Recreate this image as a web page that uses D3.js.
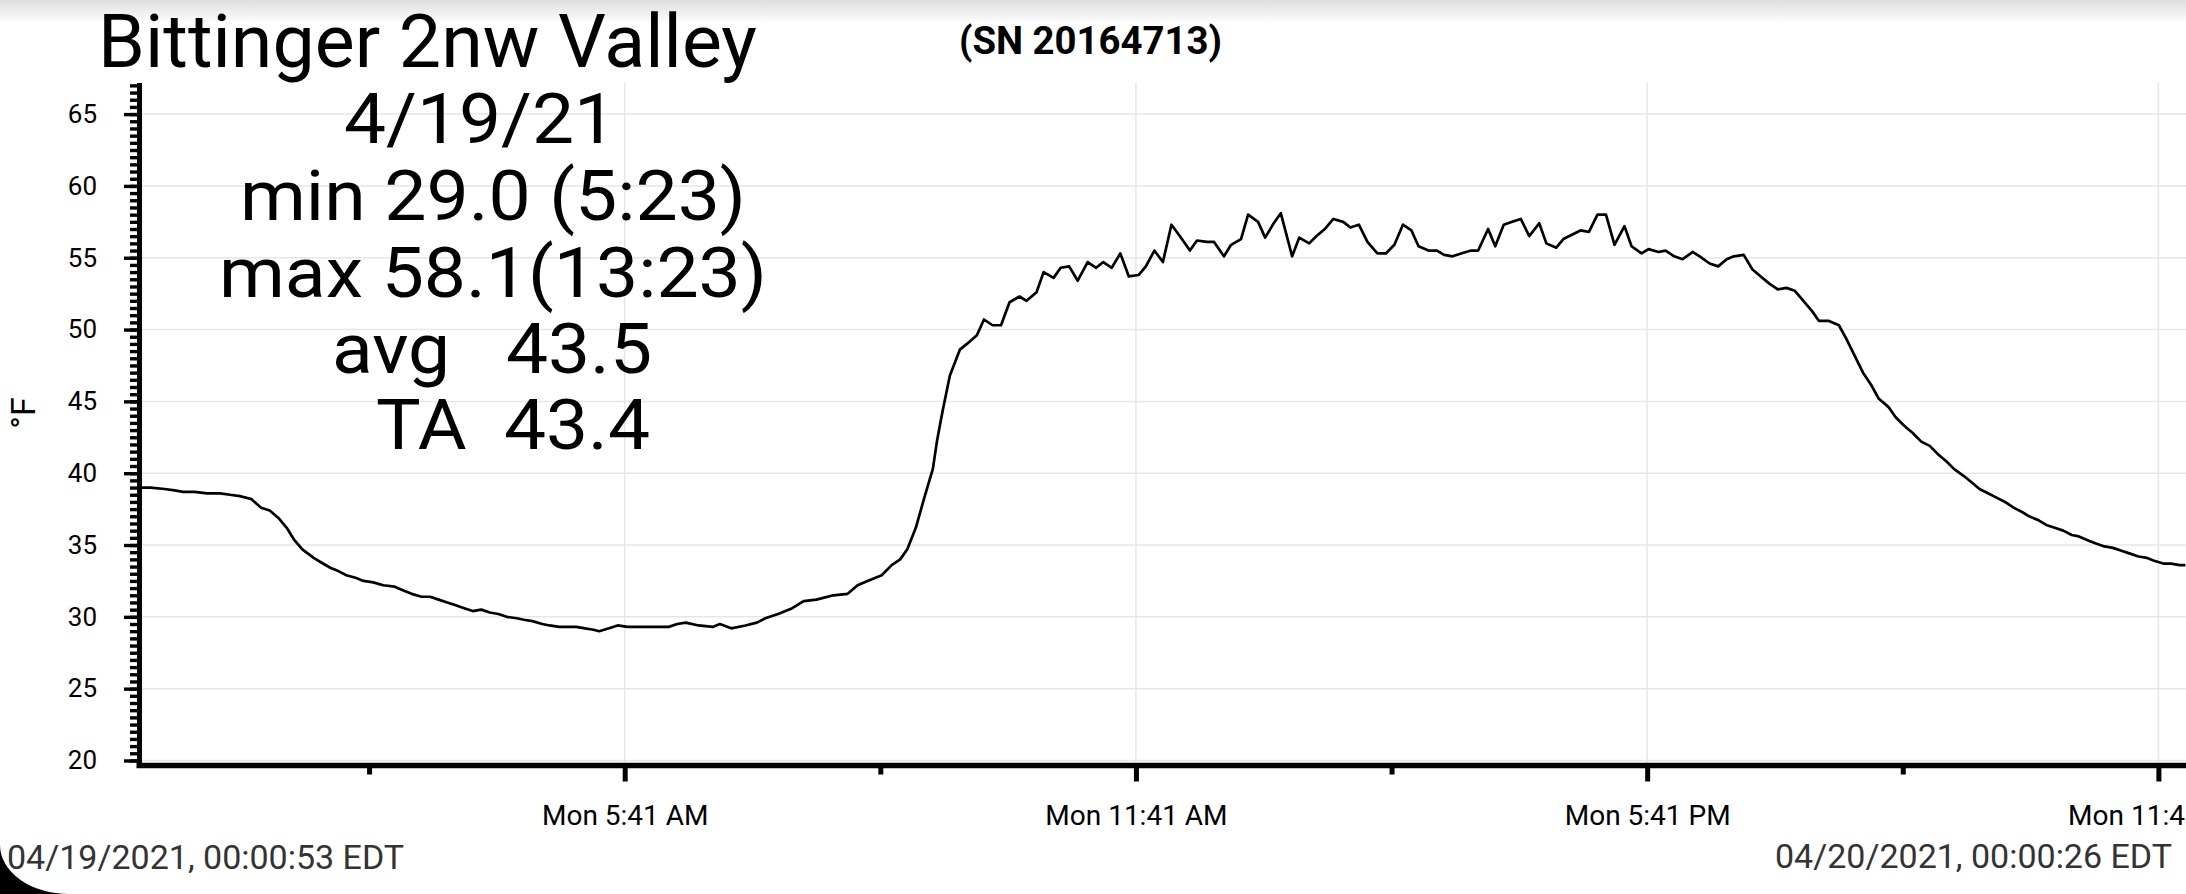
<!DOCTYPE html>
<html lang="en">
<head>
  <meta charset="UTF-8">
  <title>Bittinger 2nw Valley</title>
  <script src="https://d3js.org/d3.v7.min.js"></script>
  <style>
    html, body { margin: 0; padding: 0; background: #fff; overflow: hidden; }
    svg { display: block; font-family: Roboto, "Noto Sans", sans-serif; }
    .big { font-size: 70px; fill: #000; white-space: pre; }
    .tick text { fill: #000; }
  </style>
</head>
<body>
<div id="chart"></div>
<script>
// readings, local time on 4/19/21 (24:00 = midnight next day)
const times = [
  "0:01","0:07","0:17","0:24","0:30","0:38","0:47","0:56","1:03","1:10",
  "1:18","1:25","1:31","1:37","1:43","1:48","1:54","2:02","2:07","2:14",
  "2:19","2:25","2:32","2:37","2:44","2:51","2:59","3:06","3:11","3:18",
  "3:24","3:30","3:36","3:42","3:48","3:54","4:00","4:06","4:12","4:18",
  "4:25","4:30","4:36","4:43","4:48","4:55","5:00","5:07","5:13","5:19",
  "5:23","5:30","5:36","5:43","5:49","5:55","6:01","6:07","6:12","6:18",
  "6:24","6:33","6:43","6:48","6:56","7:06","7:14","7:20","7:29","7:39",
  "7:47","7:56","8:08","8:18","8:25","8:32","8:42","8:49","8:55","9:00",
  "9:06","9:12","9:18","9:21","9:25","9:30","9:37","9:42","9:49","9:54",
  "10:00","10:06","10:12","10:19","10:24","10:31","10:36","10:43","10:48","10:54",
  "11:00","11:07","11:13","11:18","11:24","11:30","11:36","11:43","11:48","11:54",
  "12:00","12:06","12:12","12:19","12:24","12:31","12:36","12:43","12:48","12:55",
  "13:00","13:07","13:12","13:18","13:23","13:31","13:36","13:43","13:48","13:54",
  "14:00","14:07","14:12","14:18","14:24","14:31","14:37","14:43","14:49","14:55",
  "15:00","15:07","15:13","15:18","15:24","15:30","15:37","15:42","15:49","15:54",
  "16:00","16:06","16:12","16:18","16:25","16:30","16:37","16:42","16:48","16:54",
  "17:00","17:06","17:12","17:18","17:25","17:30","17:37","17:42","17:49","17:54",
  "18:00","18:06","18:13","18:18","18:25","18:31","18:37","18:42","18:49","18:55",
  "19:01","19:07","19:13","19:19","19:25","19:31","19:37","19:42","19:49","19:56",
  "20:01","20:07","20:13","20:19","20:24","20:31","20:36","20:42","20:48","20:54",
  "21:00","21:06","21:12","21:17","21:24","21:29","21:35","21:41","21:47","21:53",
  "21:59","22:05","22:10","22:17","22:22","22:28","22:34","22:40","22:45","22:52",
  "22:57","23:03","23:09","23:15","23:21","23:27","23:33","23:38","23:45","23:50",
  "23:56","24:00"
];
const temps = [
  39.0,39.0,38.9,38.8,38.7,38.7,38.6,38.6,38.5,38.4,
  38.2,37.6,37.4,36.9,36.2,35.4,34.7,34.1,33.8,33.4,
  33.2,32.9,32.7,32.5,32.4,32.2,32.1,31.8,31.6,31.4,
  31.4,31.2,31.0,30.8,30.6,30.4,30.5,30.3,30.2,30.0,
  29.9,29.8,29.7,29.5,29.4,29.3,29.3,29.3,29.2,29.1,
  29.0,29.2,29.4,29.3,29.3,29.3,29.3,29.3,29.3,29.5,
  29.6,29.4,29.3,29.5,29.2,29.4,29.6,29.9,30.2,30.6,
  31.1,31.2,31.5,31.6,32.2,32.5,32.9,33.6,34.0,34.7,
  36.2,38.3,40.3,42.3,44.4,46.8,48.6,49.0,49.6,50.7,
  50.3,50.3,51.9,52.3,52.0,52.6,54.0,53.6,54.3,54.4,
  53.4,54.7,54.3,54.7,54.3,55.3,53.7,53.8,54.4,55.5,
  54.7,57.3,56.5,55.5,56.2,56.1,56.1,55.1,55.9,56.3,
  58.0,57.5,56.4,57.4,58.1,55.1,56.4,56.0,56.5,57.0,
  57.7,57.5,57.1,57.3,56.1,55.3,55.3,55.9,57.3,56.9,
  55.8,55.5,55.5,55.2,55.1,55.3,55.5,55.5,57.0,55.8,
  57.3,57.5,57.7,56.5,57.4,56.0,55.7,56.3,56.6,56.9,
  56.8,58.0,58.0,55.9,57.2,55.8,55.3,55.6,55.4,55.5,
  55.1,54.9,55.4,55.1,54.6,54.4,54.9,55.1,55.2,54.2,
  53.7,53.2,52.8,52.9,52.7,52.0,51.3,50.6,50.6,50.3,
  49.4,48.2,47.0,46.1,45.2,44.6,43.9,43.3,42.8,42.2,
  41.9,41.3,40.8,40.3,39.8,39.4,38.9,38.6,38.3,38.0,
  37.6,37.3,37.0,36.7,36.4,36.2,36.0,35.7,35.6,35.3,
  35.1,34.9,34.8,34.6,34.4,34.2,34.1,33.9,33.7,33.7,
  33.6,33.6
];

const yMajor = [20, 25, 30, 35, 40, 45, 50, 55, 60, 65];
const xTickTimes = ["5:41", "11:41", "17:41", "23:41"];
const xTickLabels = ["Mon 5:41 AM", "Mon 11:41 AM", "Mon 5:41 PM", "Mon 11:41 PM"];
const xMinorTimes = ["2:41", "8:41", "14:41", "20:41"];

const titleText = "Bittinger 2nw Valley";
const serialText = "(SN 20164713)";
const statLines = ["4/19/21", "min 29.0 (5:23)", "max 58.1(13:23)", "avg   43.5", "TA  43.4"];
const startLabel = "04/19/2021, 00:00:53 EDT";
const endLabel = "04/20/2021, 00:00:26 EDT";

const W = 2186, H = 894;
const axisX = 139, axisY = 765.5;

function toDate(t) {
  const [h, m] = t.split(":").map(Number);
  return new Date(2021, 3, 19, h, m);
}
const data = times.map((t, i) => ({ date: toDate(t), value: temps[i] }));

const x = d3.scaleTime()
  .domain([new Date(2021, 3, 19, 0, 0, 53), new Date(2021, 3, 20, 0, 0, 26)])
  .range([141.7, W]);
const y = d3.scaleLinear()
  .domain([19.65, 67.2])
  .range([axisY, 82.5]);

const svg = d3.select("#chart").append("svg")
  .attr("width", W)
  .attr("height", H);

// faint shadow at the top of the screenshot
const grad = svg.append("defs").append("linearGradient")
  .attr("id", "topShade").attr("x1", 0).attr("y1", 0).attr("x2", 0).attr("y2", 1);
grad.append("stop").attr("offset", "0%").attr("stop-color", "#dedede");
grad.append("stop").attr("offset", "100%").attr("stop-color", "#ffffff");
svg.append("rect").attr("x", 0).attr("y", 0).attr("width", W).attr("height", 24)
  .attr("fill", "url(#topShade)");

// grid
const yMinorVals = d3.range(20, 67.01, 0.5);
svg.append("g").selectAll("line")
  .data(yMajor)
  .join("line")
  .attr("x1", axisX).attr("x2", W)
  .attr("y1", d => y(d)).attr("y2", d => y(d))
  .attr("stroke", "#e6e6e6").attr("stroke-width", 1.5);
svg.append("g").selectAll("line")
  .data(xTickTimes.map(toDate))
  .join("line")
  .attr("x1", d => x(d)).attr("x2", d => x(d))
  .attr("y1", y(67.2)).attr("y2", axisY)
  .attr("stroke", "#e6e6e6").attr("stroke-width", 1.5);

// temperature line
svg.append("path")
  .datum(data)
  .attr("fill", "none")
  .attr("stroke", "#000")
  .attr("stroke-width", 2.7)
  .attr("stroke-linejoin", "round")
  .attr("d", d3.line().x(d => x(d.date)).y(d => y(d.value)));

// y axis
const yAxisMinor = svg.append("g")
  .attr("transform", `translate(${axisX},0)`)
  .call(d3.axisLeft(y).tickValues(yMinorVals).tickSize(9).tickSizeOuter(0).tickFormat(""));
yAxisMinor.select(".domain").remove();
yAxisMinor.selectAll(".tick line").attr("stroke-width", 3.4);

const yAxis = svg.append("g")
  .attr("transform", `translate(${axisX},0)`)
  .call(d3.axisLeft(y).tickValues(yMajor).tickSize(15).tickSizeOuter(0).tickPadding(27));
yAxis.select(".domain").attr("stroke-width", 5);
yAxis.selectAll(".tick line").attr("stroke-width", 3.4);
yAxis.selectAll(".tick text").attr("font-size", 26).attr("font-family", "Roboto");

// x axis
const xAxisMinor = svg.append("g")
  .attr("transform", `translate(0,${axisY})`)
  .call(d3.axisBottom(x).tickValues(xMinorTimes.map(toDate)).tickSize(9).tickSizeOuter(0).tickFormat(""));
xAxisMinor.select(".domain").remove();
xAxisMinor.selectAll(".tick line").attr("stroke-width", 5);

const xAxis = svg.append("g")
  .attr("transform", `translate(0,${axisY})`)
  .call(d3.axisBottom(x).tickValues(xTickTimes.map(toDate)).tickSize(16).tickSizeOuter(0)
    .tickFormat((d, i) => xTickLabels[i]));
xAxis.select(".domain").attr("d", `M${axisX - 2.5},0H${W}`).attr("stroke-width", 5.5);
xAxis.selectAll(".tick line").attr("stroke-width", 5);
xAxis.selectAll(".tick text")
  .attr("font-size", 28).attr("font-family", "Roboto")
  .attr("dy", null).attr("y", 825 - axisY);

// y axis title
svg.append("text")
  .attr("transform", "translate(35,413) rotate(-90)")
  .attr("text-anchor", "middle")
  .attr("font-size", 34)
  .text("°F");

// header texts
svg.append("text")
  .attr("x", 98).attr("y", 67)
  .attr("font-size", 74)
  .attr("textLength", 659).attr("lengthAdjust", "spacingAndGlyphs")
  .text(titleText);

svg.append("text")
  .attr("x", 959).attr("y", 54)
  .attr("font-size", 38).attr("font-weight", "bold")
  .attr("textLength", 263).attr("lengthAdjust", "spacingAndGlyphs")
  .text(serialText);

const statPos = [
  { x: 344, y: 143, w: 272 },
  { x: 240, y: 220, w: 506 },
  { x: 219, y: 297, w: 548 },
  { x: 332, y: 373, w: 320 },
  { x: 376, y: 449, w: 274 }
];
svg.append("g").selectAll("text")
  .data(statLines)
  .join("text")
  .attr("class", "big")
  .attr("x", (d, i) => statPos[i].x)
  .attr("y", (d, i) => statPos[i].y)
  .attr("textLength", (d, i) => statPos[i].w)
  .attr("lengthAdjust", "spacingAndGlyphs")
  .text(d => d);

// footer timestamps
svg.append("text")
  .attr("x", 7).attr("y", 869)
  .attr("font-size", 34).attr("fill", "#333")
  .text(startLabel);
svg.append("text")
  .attr("x", 2172).attr("y", 868)
  .attr("text-anchor", "end")
  .attr("font-size", 34).attr("fill", "#333")
  .text(endLabel);

// rounded screen corner
svg.append("path")
  .attr("d", "M0,845 A69,49 0 0 0 69,894 L0,894 Z")
  .attr("fill", "#000");
</script>
</body>
</html>
